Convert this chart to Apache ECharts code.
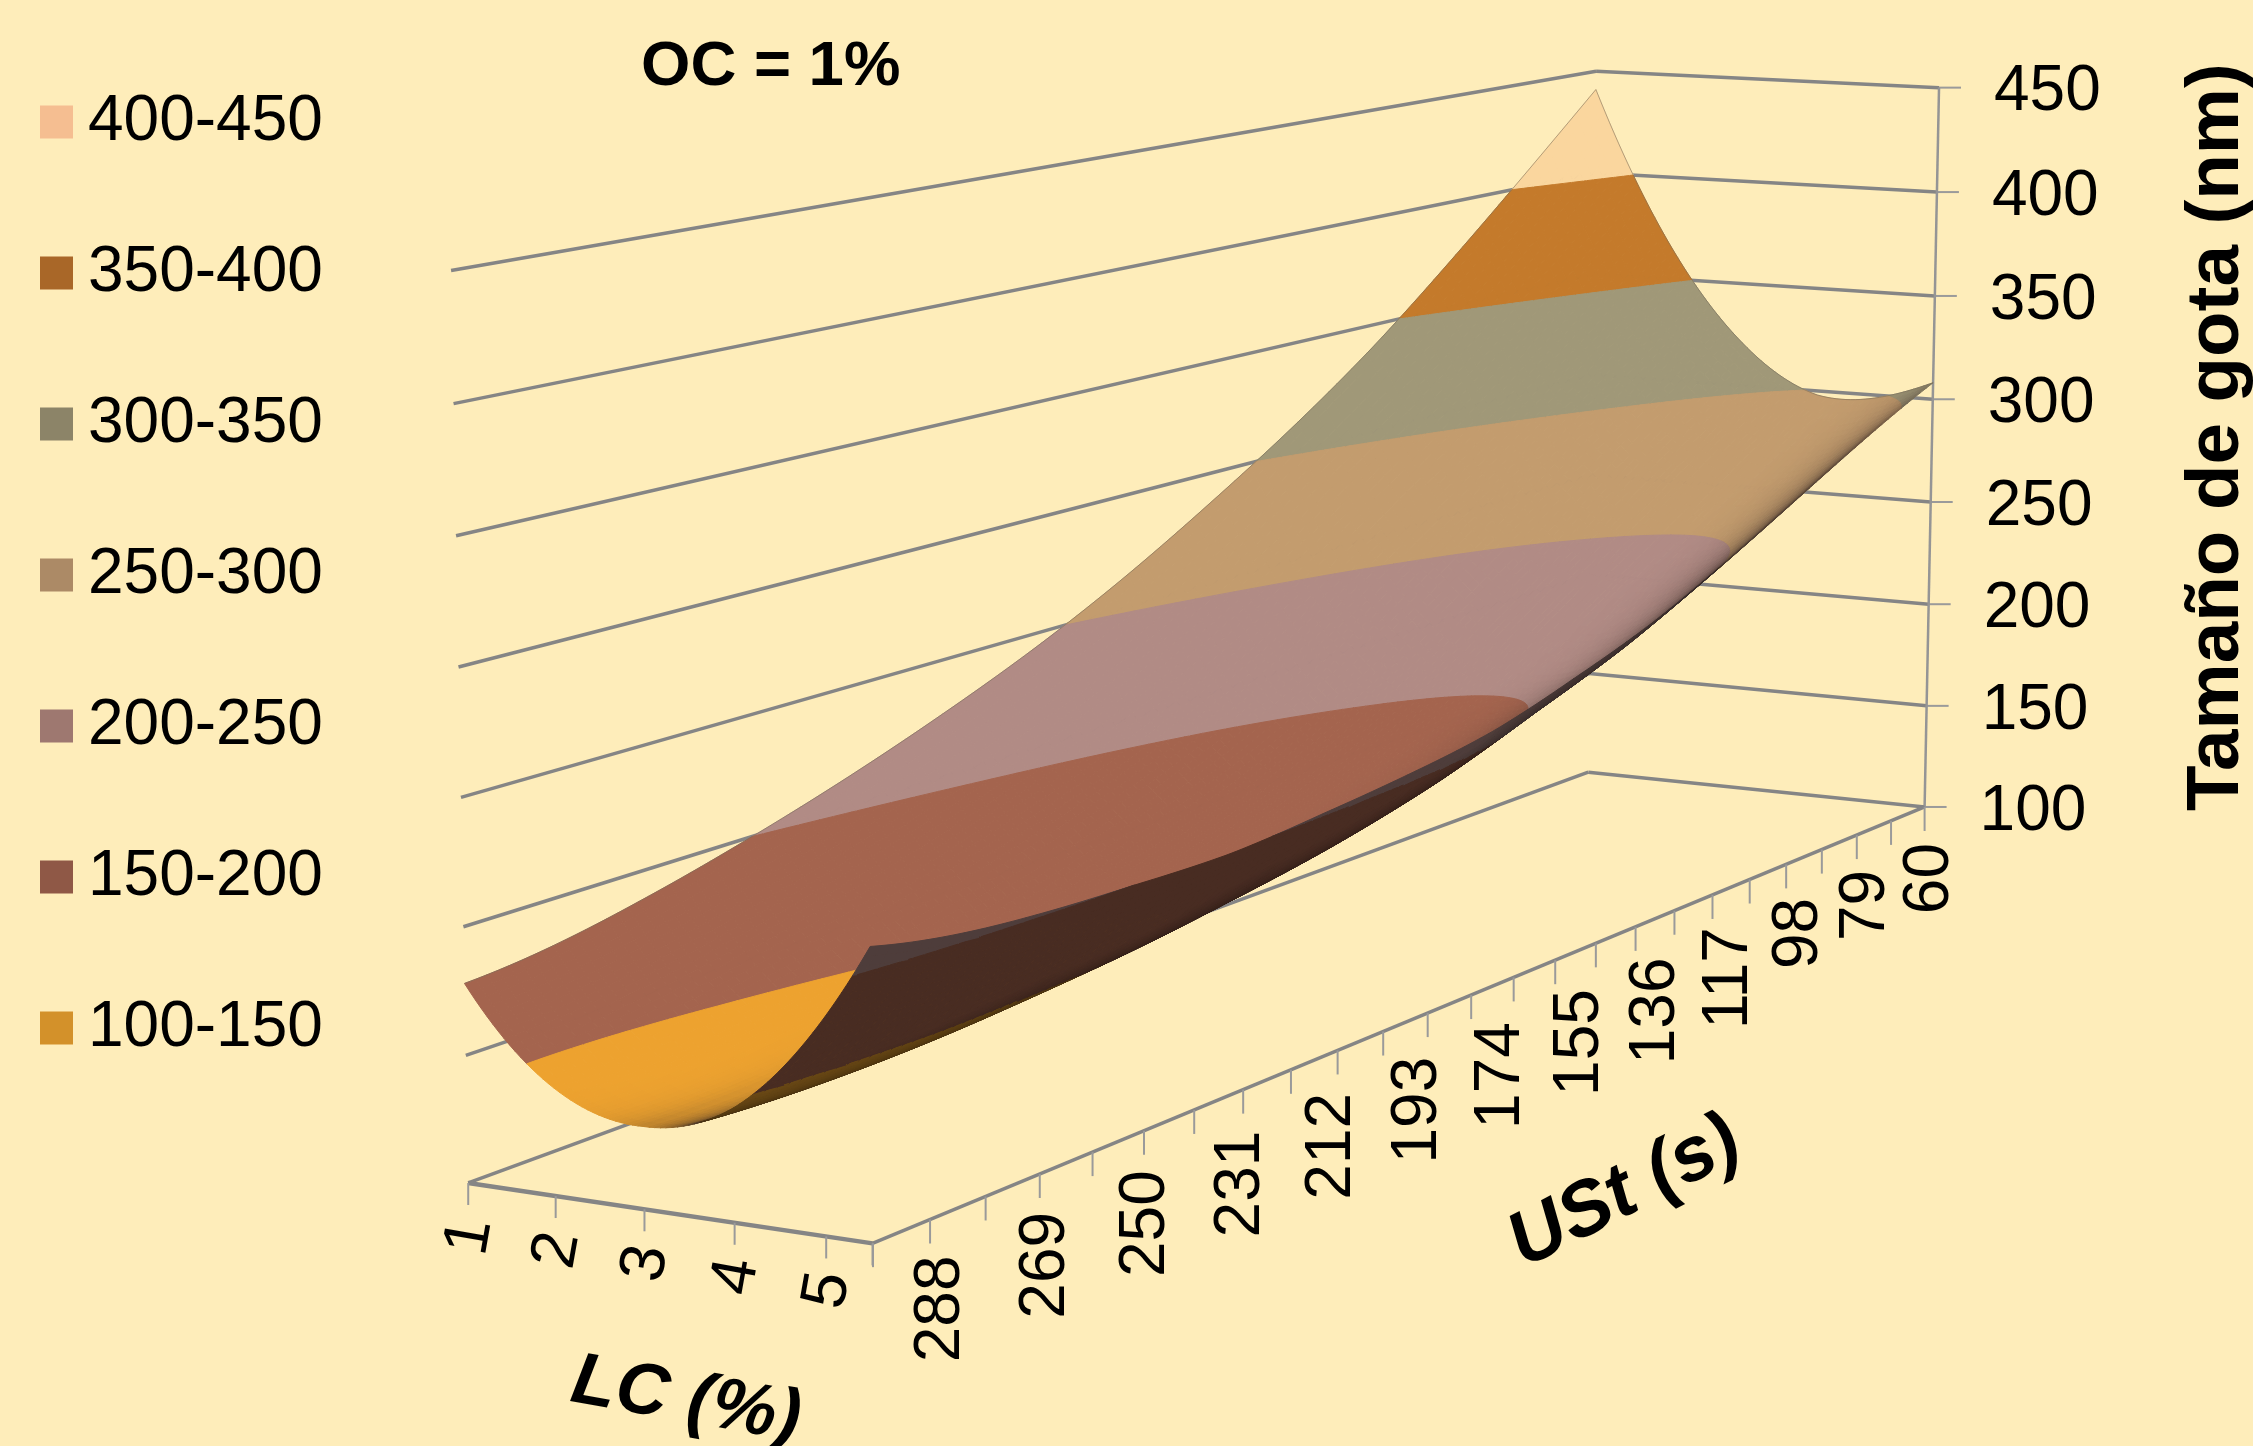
<!DOCTYPE html>
<html>
<head>
<meta charset="utf-8">
<style>
  html, body { margin: 0; padding: 0; background: #FEEDBA; }
  #chart { width: 2253px; height: 1446px; }
</style>
<script src="https://cdn.jsdelivr.net/npm/echarts@6/dist/echarts.min.js"></script>
</head>
<body>
<div id="chart"></div>
<script>
// valores
const lcValues = [1, 2, 3, 4, 5, 5.5];
const ustValues = [60, 79, 98, 117, 136, 155, 174, 193, 212, 231, 250, 269, 288, 298];
// filas: USt, columnas: LC
const dropSize = [
  [441, 368, 321, 298, 301, 308],
  [406, 337, 293, 273, 279, 291],
  [372, 307, 267, 250, 258, 272],
  [340, 278, 240, 227, 238, 253],
  [312, 252, 216, 205, 219, 236],
  [287, 229, 196, 188, 205, 223],
  [264, 208, 178, 173, 192, 212],
  [244, 191, 164, 161, 184, 206],
  [227, 177, 152, 153, 179, 202],
  [212, 165, 143, 147, 175, 199],
  [199, 155, 137, 143, 175, 200],
  [188, 147, 133, 141, 175, 202],
  [180, 142, 131, 142, 179, 207],
  [178, 142, 132, 144, 183, 212]
];
const lcTicks = [1, 2, 3, 4, 5];
const ustTicks = [288, 269, 250, 231, 212, 193, 174, 155, 136, 117, 98, 79, 60];
const sizeTicks = [100, 150, 200, 250, 300, 350, 400, 450];
const bandNames = ['400-450', '350-400', '300-350', '250-300', '200-250', '150-200', '100-150'];
const legendColors = ['#F5BE91', '#A96728', '#8C8468', '#AC8A66', '#9E7870', '#8F5846', '#D3912A'];
const surfaceColors = ['#FAD69E', '#C47A2B', '#A09878', '#C39C6E', '#B18B85', '#A4644E', '#EDA22F'];

const W = 2253, H = 1446;
const lcMin = 1, lcMax = 5.5, ustMin = 60, ustMax = 298, sizeMin = 100, sizeMax = 450;
const GREY = '#858585';

// camara: se ajusta con las esquinas de la caja
const anchors = [
  [1, 298, 100, 468, 1183], [1, 298, 150, 466, 1055], [1, 298, 200, 464, 928], [1, 298, 450, 451, 270],
  [1, 60, 100, 1588, 772], [1, 60, 450, 1596, 71],
  [5.5, 60, 100, 1925, 807], [5.5, 60, 450, 1939, 88],
  [5.5, 298, 100, 872, 1243], [5.5, 179, 100, 1471, 995]
];
function norm(lc, ust, size) {
  return [(lc - lcMin) / (lcMax - lcMin), (ust - ustMin) / (ustMax - ustMin), (size - sizeMin) / (sizeMax - sizeMin)];
}
function solve(A, b) {
  const n = b.length;
  for (let i = 0; i < n; i++) {
    let piv = i;
    for (let r = i + 1; r < n; r++) if (Math.abs(A[r][i]) > Math.abs(A[piv][i])) piv = r;
    [A[i], A[piv]] = [A[piv], A[i]];
    [b[i], b[piv]] = [b[piv], b[i]];
    for (let r = i + 1; r < n; r++) {
      const f = A[r][i] / A[i][i];
      for (let c = i; c < n; c++) A[r][c] -= f * A[i][c];
      b[r] -= f * b[i];
    }
  }
  const x = new Array(n).fill(0);
  for (let i = n - 1; i >= 0; i--) {
    let s = b[i];
    for (let c = i + 1; c < n; c++) s -= A[i][c] * x[c];
    x[i] = s / A[i][i];
  }
  return x;
}
function fitCamera() {
  const N = Array.from({ length: 11 }, () => new Array(11).fill(0));
  const r = new Array(11).fill(0);
  anchors.forEach(a => {
    const [p, s, z] = norm(a[0], a[1], a[2]);
    const u = a[3] / 1000, v = a[4] / 1000;
    const rows = [
      [[p, s, z, 1, 0, 0, 0, 0, -u * p, -u * s, -u * z], u],
      [[0, 0, 0, 0, p, s, z, 1, -v * p, -v * s, -v * z], v]
    ];
    rows.forEach(([row, y]) => {
      for (let i = 0; i < 11; i++) {
        r[i] += row[i] * y;
        for (let j = 0; j < 11; j++) N[i][j] += row[i] * row[j];
      }
    });
  });
  return solve(N, r);
}
const cam = fitCamera();
function project(lc, ust, size) {
  const [p, s, z] = norm(lc, ust, size);
  const w = cam[8] * p + cam[9] * s + cam[10] * z + 1;
  return [
    1000 * (cam[0] * p + cam[1] * s + cam[2] * z + cam[3]) / w,
    1000 * (cam[4] * p + cam[5] * s + cam[6] * z + cam[7]) / w,
    w
  ];
}
// posicion del ojo en la caja normalizada
const boxScale = [1, 2, 1.4];
const eye = solve(
  [[cam[0] - 0, cam[1], cam[2]], [cam[4], cam[5], cam[6]], [cam[8], cam[9], cam[10]]],
  [-cam[3], -cam[7], -1]
).map((v, i) => v * boxScale[i]);

// curva suave que pasa por los valores de la tabla, solo para dibujar
function curveAt(nodes, vals, x) {
  let i = 0;
  while (i < nodes.length - 2 && nodes[i + 1] < x) i++;
  const st = Math.max(0, Math.min(nodes.length - 4, i - 1));
  let sum = 0;
  for (let a = st; a < st + 4; a++) {
    let t = vals[a];
    for (let b = st; b < st + 4; b++) if (a !== b) t *= (x - nodes[b]) / (nodes[a] - nodes[b]);
    sum += t;
  }
  return sum;
}
const nLc = 72, nUst = 130;
const meshLc = [], meshUst = [];
for (let i = 0; i <= nLc; i++) meshLc.push(lcMin + (lcMax - lcMin) * i / nLc);
for (let j = 0; j <= nUst; j++) meshUst.push(ustMin + (ustMax - ustMin) * j / nUst);
const meshZ = meshUst.map(t => {
  const col = lcValues.map((_, c) => curveAt(ustValues, dropSize.map(r => r[c]), t));
  return meshLc.map(l => curveAt(lcValues, col, l));
});

function hexMix(hex, to, f) {
  const c = [1, 3, 5].map(k => parseInt(hex.substr(k, 2), 16));
  const m = c.map((v, i) => Math.round(v + (to[i] - v) * f));
  return 'rgb(' + m.join(',') + ')';
}
function clipBand(poly, lo, hi) {
  const cut = (pts, level, keepAbove) => {
    const out = [];
    for (let i = 0; i < pts.length; i++) {
      const a = pts[i], b = pts[(i + 1) % pts.length];
      const ina = keepAbove ? a[2] >= level : a[2] <= level;
      const inb = keepAbove ? b[2] >= level : b[2] <= level;
      if (ina) out.push(a);
      if (ina !== inb) {
        const f = (level - a[2]) / (b[2] - a[2]);
        out.push([a[0] + (b[0] - a[0]) * f, a[1] + (b[1] - a[1]) * f, level]);
      }
    }
    return out;
  };
  let r = cut(poly, lo, true);
  if (r.length) r = cut(r, hi, false);
  return r;
}

// celdas de la superficie, de atras hacia delante
const cells = [];
for (let j = 0; j < nUst; j++) {
  for (let i = 0; i < nLc; i++) {
    const q = [
      [meshLc[i], meshUst[j], meshZ[j][i]],
      [meshLc[i + 1], meshUst[j], meshZ[j][i + 1]],
      [meshLc[i + 1], meshUst[j + 1], meshZ[j + 1][i + 1]],
      [meshLc[i], meshUst[j + 1], meshZ[j + 1][i]]
    ];
    const c = [0, 1, 2].map(k => (q[0][k] + q[1][k] + q[2][k] + q[3][k]) / 4);
    const n0 = norm(c[0], c[1], c[2]).map((v, k) => v * boxScale[k]);
    const dp = norm(lcMin + (q[1][0] - q[0][0]), ustMin, sizeMin + ((q[1][2] + q[2][2]) - (q[0][2] + q[3][2])) / 2);
    const ds = norm(lcMin, ustMin + (q[3][1] - q[0][1]), sizeMin + ((q[2][2] + q[3][2]) - (q[0][2] + q[1][2])) / 2);
    const U = dp.map((v, k) => v * boxScale[k]), V = ds.map((v, k) => v * boxScale[k]);
    let nrm = [U[1] * V[2] - U[2] * V[1], U[2] * V[0] - U[0] * V[2], U[0] * V[1] - U[1] * V[0]];
    if (nrm[2] < 0) nrm = nrm.map(v => -v);
    const view = eye.map((v, k) => v - n0[k]);
    const len = Math.hypot(...nrm) * Math.hypot(...view);
    const facing = (nrm[0] * view[0] + nrm[1] * view[1] + nrm[2] * view[2]) / len;
    cells.push({ q, facing, depth: project(c[0], c[1], c[2])[2] });
  }
}
cells.sort((a, b) => b.depth - a.depth);

const bandCells = bandNames.map(() => []);
cells.forEach((cell, rank) => {
  const zs = cell.q.map(v => v[2]);
  const lo = Math.min(...zs), hi = Math.max(...zs);
  bandNames.forEach((name, b) => {
    const parts = name.split('-').map(Number);
    if (hi < parts[0] || lo > parts[1]) return;
    const poly = clipBand(cell.q, parts[0], parts[1]);
    if (poly.length < 3) return;
    let fill;
    if (cell.facing < 0) {
      // cara de abajo: mas oscura junto al pliegue
      fill = hexMix(surfaceColors[b], [0, 0, 0], 0.7 - Math.min(0.14, -cell.facing * 0.6));
    } else {
      const d = Math.max(0, Math.min(1, (0.6 - cell.facing) / 0.6));
      fill = hexMix(surfaceColors[b], [58, 44, 38], 0.92 * d * d * d);
    }
    bandCells[b].push({ poly, fill, z2: rank + 10 });
  });
});
const topZ2 = cells.length + 100;

function renderBand(b) {
  return function (params, api) {
    const f = bandCells[b][params.dataIndex];
    const points = f.poly.map(v => {
      const p = project(v[0], v[1], v[2]);
      return api.coord([p[0], p[1]]);
    });
    return {
      type: 'polygon', z2: f.z2, silent: true,
      shape: { points },
      style: { fill: f.fill, stroke: f.fill, lineWidth: 1 }
    };
  };
}

// caja, marcas y rotulos
const frame = [];
function seg(a, b, width, color) { frame.push({ kind: 'line', pts: [a, b], width, color: color || GREY }); }
function tick(a, dx, dy) {
  const p = project(a[0], a[1], a[2]);
  frame.push({ kind: 'tick', p, dx, dy });
}
sizeTicks.forEach(z => {
  seg([lcMin, ustMax, z], [lcMin, ustMin, z], 3.5);
  seg([lcMin, ustMin, z], [lcMax, ustMin, z], 3.5);
  tick([lcMax, ustMin, z], 22, 0);
  const p = project(lcMax, ustMin, z);
  frame.push({ kind: 'text', p, dx: 55, dy: 5, text: String(z), rot: 0, align: 'left' });
});
seg([lcMax, ustMin, sizeMin], [lcMax, ustMin, sizeMax], 2.5, '#959595');
seg([lcMin, ustMax, sizeMin], [lcMax, ustMax, sizeMin], 4.5);
seg([lcMax, ustMax, sizeMin], [lcMax, ustMin, sizeMin], 3.5);
lcTicks.concat([lcMax]).forEach(l => tick([l, ustMax, sizeMin], 0, 22));
lcTicks.forEach(l => {
  frame.push({ kind: 'text', p: project(l, ustMax, sizeMin), dx: 2, dy: 54, text: String(l), rot: 80, align: 'center' });
});
const ustStep = (288 - 60) / 23;
for (let k = 0; k <= 24; k++) tick([lcMax, ustMin + k * ustStep, sizeMin], 0, 24);
ustTicks.forEach(t => {
  frame.push({ kind: 'text', p: project(lcMax, t, sizeMin), dx: 6 + (t - 60) * 0.025, dy: 36, text: String(t), rot: 90, align: 'right' });
});
[0, 1].forEach(e => {
  const pts = [];
  if (e === 0) meshUst.forEach((t, j) => pts.push([lcMin, t, meshZ[j][0]]));
  else meshLc.forEach((l, i) => pts.push([l, ustMin, meshZ[0][i]]));
  frame.push({ kind: 'edge', pts });
});

function renderFrame(params, api) {
  const f = frame[params.dataIndex];
  if (f.kind === 'line' || f.kind === 'edge') {
    const points = f.pts.map(v => {
      const p = project(v[0], v[1], v[2]);
      return api.coord([p[0], p[1]]);
    });
    return {
      type: 'polyline', silent: true, z2: f.kind === 'edge' ? topZ2 : 1,
      shape: { points },
      style: f.kind === 'edge'
        ? { fill: null, stroke: 'rgba(120,110,90,0.55)', lineWidth: 1 }
        : { fill: null, stroke: f.color, lineWidth: f.width }
    };
  }
  const o = api.coord([f.p[0], f.p[1]]);
  if (f.kind === 'tick') {
    return {
      type: 'line', silent: true, z2: 1,
      shape: { x1: o[0], y1: o[1], x2: o[0] + f.dx, y2: o[1] + f.dy },
      style: { stroke: '#9A9A9A', lineWidth: 2 }
    };
  }
  return {
    type: 'text', silent: true, z2: topZ2,
    x: o[0] + f.dx, y: o[1] + f.dy, rotation: f.rot * Math.PI / 180,
    style: { text: f.text, x: 0, y: 0, fill: '#000', font: '64px "Liberation Sans"', align: f.align, verticalAlign: 'middle' }
  };
}

const series = bandNames.map((name, b) => ({
  type: 'custom', name,
  coordinateSystem: 'cartesian2d',
  renderItem: renderBand(b),
  data: bandCells[b].map((_, i) => [i, i]),
  itemStyle: { color: legendColors[b] },
  clip: false, silent: true, progressive: 0, animation: false
}));
series.push({
  type: 'custom', name: 'caja',
  coordinateSystem: 'cartesian2d',
  renderItem: renderFrame,
  data: frame.map((_, i) => [i, i]),
  clip: false, silent: true, progressive: 0, animation: false
});

const chart = echarts.init(document.getElementById('chart'));
chart.setOption({
  backgroundColor: '#FEEDBA',
  animation: false,
  tooltip: { show: false },
  grid: { left: 0, right: 0, top: 0, bottom: 0 },
  xAxis: { type: 'value', min: 0, max: W, show: false },
  yAxis: { type: 'value', min: 0, max: H, inverse: true, show: false },
  title: {
    text: 'OC = 1%', left: 636, top: 30,
    textStyle: { fontFamily: 'Liberation Sans', fontSize: 63.5, fontWeight: 'bold', color: '#000' }
  },
  legend: {
    orient: 'vertical', left: 35, top: 85,
    data: bandNames, selectedMode: false,
    icon: 'rect', itemWidth: 33, itemHeight: 33, itemGap: 87,
    textStyle: { fontFamily: 'Liberation Sans', fontSize: 64, lineHeight: 63, color: '#000', padding: [0, 0, 0, 10] }
  },
  graphic: [
    {
      type: 'text', x: 2217, y: 437, rotation: Math.PI / 2, silent: true,
      style: { text: 'Tamaño de gota (nm)', fill: '#000', font: 'bold 74.5px "Liberation Sans"', align: 'center', verticalAlign: 'middle' }
    },
    {
      type: 'text', x: 686, y: 1401, rotation: -10 * Math.PI / 180, silent: true,
      style: { text: 'LC (%)', fill: '#000', font: 'italic bold 73px "Liberation Sans"', align: 'center', verticalAlign: 'middle' }
    },
    {
      type: 'text', x: 1625, y: 1193, rotation: 27 * Math.PI / 180, silent: true,
      style: { text: 'USt (s)', fill: '#000', font: 'italic bold 77px "Liberation Sans"', align: 'center', verticalAlign: 'middle' }
    }
  ],
  series
});
window.addEventListener('resize', () => chart.resize());
</script>
</body>
</html>
